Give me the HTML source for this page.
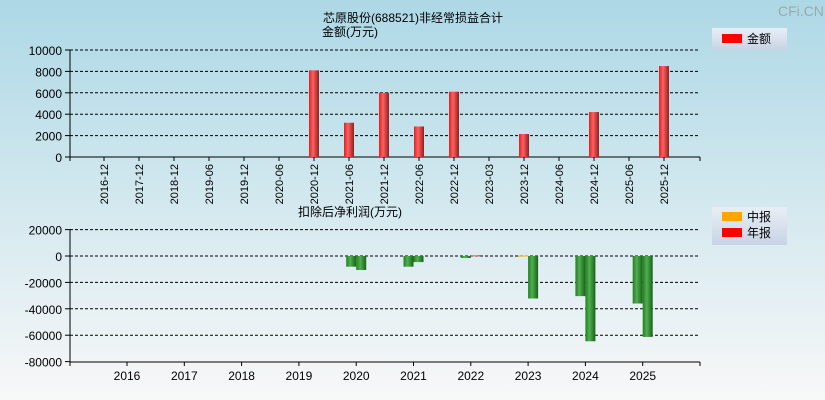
<!DOCTYPE html>
<html><head><meta charset="utf-8">
<style>
body{margin:0;width:825px;height:400px;overflow:hidden;font-family:"Liberation Sans","Noto Sans CJK SC",sans-serif;}
svg{display:block}
</style></head>
<body>
<svg id="c" width="825" height="400" xmlns="http://www.w3.org/2000/svg" font-family="Liberation Sans, Noto Sans CJK SC, sans-serif">
<defs>
<linearGradient id="bg" x1="0" y1="0" x2="0" y2="1">
<stop offset="0" stop-color="#add8e6"/><stop offset="1" stop-color="#f8f8f8"/></linearGradient>
<linearGradient id="red" x1="0" x2="1"><stop offset="0" stop-color="#e02020"/><stop offset="0.4" stop-color="#ff6060"/><stop offset="1" stop-color="#902020"/></linearGradient>
<linearGradient id="grn" x1="0" x2="1"><stop offset="0" stop-color="#208020"/><stop offset="0.4" stop-color="#50b050"/><stop offset="1" stop-color="#1a601a"/></linearGradient>
<linearGradient id="org" x1="0" x2="1"><stop offset="0" stop-color="#e0a000"/><stop offset="1" stop-color="#ffc040"/></linearGradient>
<linearGradient id="leg" x1="0" y1="0" x2="0" y2="1"><stop offset="0" stop-color="#e8eef6"/><stop offset="1" stop-color="#c8d4e4"/></linearGradient>
</defs>
<rect width="825" height="400" fill="url(#bg)"/>
<text x="778" y="16" font-size="14" fill="#9aa">CFi.CN</text>
<text x="323" y="22" font-size="12">芯原股份(688521)非经常损益合计</text>
<text x="322" y="36" font-size="12">金额(万元)</text>
<text x="298" y="216" font-size="12">扣除后净利润(万元)</text>
<g>
<rect x="712" y="28" width="75" height="22" fill="url(#leg)"/>
<rect x="722" y="34" width="20" height="9" fill="#f00"/>
<text x="747" y="43" font-size="12">金额</text></g>
<g>
<rect x="712" y="207" width="75" height="38" fill="url(#leg)"/>
<rect x="722" y="212" width="20" height="9" fill="#ffa500"/>
<text x="747" y="221" font-size="12">中报</text>
<rect x="722" y="228" width="20" height="9" fill="#f00"/>
<text x="747" y="237" font-size="12">年报</text></g>
<g id="top"></g><g id="bot"></g>
</svg>
<script>
const topCats=["2016-12","2017-12","2018-12","2019-06","2019-12","2020-06","2020-12","2021-06","2021-12","2022-06","2022-12","2023-03","2023-12","2024-06","2024-12","2025-06","2025-12"];
const topVals=[0,0,0,0,0,0,8100,3200,6000,2850,6100,0,2150,0,4200,0,8500];
const topTicks=[0,2000,4000,6000,8000,10000];
const botYears=["2016","2017","2018","2019","2020","2021","2022","2023","2024","2025"];
const botMid=[0,0,0,0,-8100,-8100,-1500,300,-30400,-36000];
const botAnnual=[0,0,0,0,-10600,-4600,500,-32200,-64600,-61300];
const botTicks=[20000,0,-20000,-40000,-60000,-80000];
const NS="http://www.w3.org/2000/svg";
function mk(p,t,a,txt){const e=document.createElementNS(NS,t);for(const k in a)e.setAttribute(k,a[k]);if(txt!==undefined)e.textContent=txt;p.appendChild(e);return e;}
// top chart
const T=document.getElementById('top');
const ty=v=>157-(v/10000)*107;
const tx=i=>104+i*35;
topTicks.forEach(v=>{
 if(v>0){const l=mk(T,'line',{x1:70,x2:700,y1:ty(v),y2:ty(v),stroke:'#000','stroke-dasharray':'3,2'});}
 const t=mk(T,'text',{x:62,y:ty(v)+5,'font-size':12,'text-anchor':'end'},String(v));
 
 mk(T,'line',{x1:65,x2:70,y1:ty(v),y2:ty(v),stroke:'#000'});
});
mk(T,'line',{x1:70,x2:70,y1:50,y2:157,stroke:'#000'});
mk(T,'line',{x1:70,x2:700,y1:157,y2:157,stroke:'#000'});
topCats.forEach((c,i)=>{
 const x=tx(i);
 mk(T,'line',{x1:x,x2:x,y1:157,y2:161,stroke:'#000'});
 const t=mk(T,'text',{x:0,y:0,'font-size':11,'text-anchor':'end',transform:`translate(${x+4},164) rotate(-90)`},c);
 
 if(topVals[i]>0){const r=mk(T,'rect',{x:x-5,y:ty(topVals[i]),width:10,height:157-ty(topVals[i]),fill:'url(#red)'});
 }
});
mk(T,'line',{x1:70,x2:70,y1:157,y2:161,stroke:'#000'});
mk(T,'line',{x1:700,x2:700,y1:157,y2:161,stroke:'#000'});
// bottom chart
const B=document.getElementById('bot');
const by=v=>256-(v/20000)*26.4;
const bx=i=>127+i*57.3;
botTicks.forEach(v=>{
 if(v>-80000){const l=mk(B,'line',{x1:70,x2:700,y1:by(v),y2:by(v),stroke:'#000','stroke-dasharray':'3,2'});}
 const t=mk(B,'text',{x:62,y:by(v)+5,'font-size':12,'text-anchor':'end'},String(v));
 
 mk(B,'line',{x1:65,x2:70,y1:by(v),y2:by(v),stroke:'#000'});
});
mk(B,'line',{x1:70,x2:70,y1:230,y2:362,stroke:'#000'});
mk(B,'line',{x1:70,x2:700,y1:362,y2:362,stroke:'#000'});
mk(B,'line',{x1:700,x2:700,y1:362,y2:366,stroke:'#000'});
mk(B,'line',{x1:70,x2:70,y1:362,y2:366,stroke:'#000'});
function bar(x,v,pos){if(v===0)return null;const y0=by(0),y1=by(v);return mk(B,'rect',{x:x,y:Math.min(y0,y1),width:10,height:Math.max(1,Math.abs(y1-y0)),fill:v<0?'url(#grn)':pos});}
botYears.forEach((yr,i)=>{
 const x=bx(i);
 mk(B,'line',{x1:x,x2:x,y1:362,y2:366,stroke:'#000'});
 const t=mk(B,'text',{x:x,y:380,'font-size':12,'text-anchor':'middle'},yr);
 
 const m=bar(x-10,botMid[i],'url(#org)');
 if(m){}
 const a=bar(x,botAnnual[i],'url(#red)');
 if(a){}
});
</script>
</body></html>
